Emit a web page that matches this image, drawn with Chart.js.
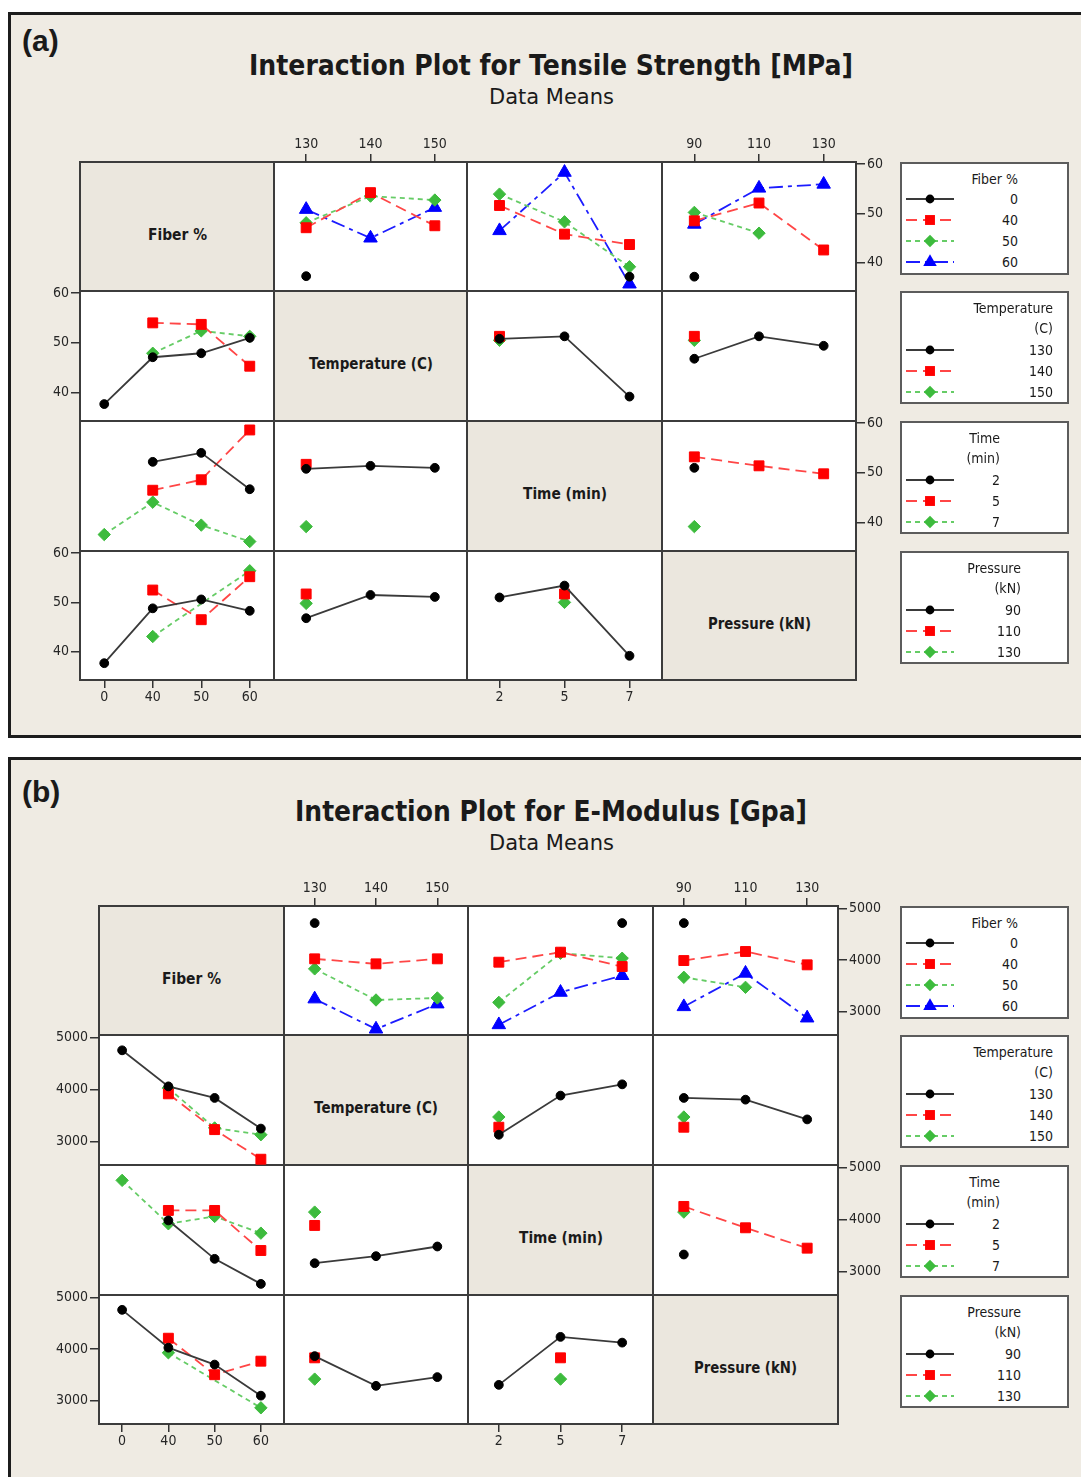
<!DOCTYPE html>
<html>
<head>
<meta charset="utf-8">
<title>Interaction Plots</title>
<script src="https://cdn.jsdelivr.net/npm/chart.js@4.4.1/dist/chart.umd.min.js"></script>
<style>
  html, body { margin: 0; padding: 0; }
  body { width: 1081px; height: 1477px; position: relative; overflow: hidden; background: #fff; }
  .frame { position: absolute; left: 8px; width: 1100px; box-sizing: border-box; border: 3px solid #1c1c1c; border-right: none; background: #efebe3; }
  .cell { position: absolute; box-sizing: border-box; border: 2px solid #3c3c3c; background: #fff; }
  .cell.diag { background: #ebe7de; }
  .legend { position: absolute; box-sizing: border-box; border: 2px solid #5c5c5c; background: #fff; }
  .txt { position: absolute; line-height: 1; white-space: nowrap; color: #1a1a1a; transform-origin: 0 50%; }
  canvas, svg { position: absolute; }
</style>
</head>
<body>
<script>
// factor levels
const fiberLevels = ['0', '40', '50', '60'];
const tempLevels = ['130', '140', '150'];
const timeLevels = ['2', '5', '7'];
const pressureLevels = ['90', '110', '130'];

// Tensile strength means [MPa]
// one row per level of the line factor, one value per level of the x factor (null = not run)
const tsFiberTemp = [[37.3, null, null], [47.1, 54.2, 47.5], [48.1, 53.5, 52.7], [50.8, 45.0, 51.2]];
const tsFiberTime = [[null, null, 37.2], [51.6, 45.8, 43.7], [53.9, 48.3, 39.2], [46.5, 58.3, 35.7]];
const tsFiberPressure = [[37.2, null, null], [48.5, 52.1, 42.6], [50.2, 46.0, null], [47.8, 55.1, 55.9]];
const tsTempFiber = [[37.7, 47.1, 47.9, 51.0], [null, 54.0, 53.7, 45.3], [null, 47.9, 52.4, 51.3]];
const tsTempTime = [[50.8, 51.3, 39.2], [51.3, null, null], [50.5, null, null]];
const tsTempPressure = [[46.8, 51.3, 49.4], [51.3, null, null], [50.5, null, null]];
const tsTimeFiber = [[null, 52.2, 54.0, 46.7], [null, 46.5, 48.6, 58.6], [37.6, 44.1, 39.5, 36.2]];
const tsTimeTemp = [[50.8, 51.4, 51.0], [51.7, null, null], [39.2, null, null]];
const tsTimePressure = [[51.0, null, null], [53.2, 51.4, 49.8], [39.2, null, null]];
const tsPressureFiber = [[37.7, 48.8, 50.6, 48.3], [null, 52.5, 46.5, 55.2], [null, 43.1, null, 56.4]];
const tsPressureTemp = [[46.8, 51.5, 51.1], [51.7, null, null], [49.8, null, null]];
const tsPressureTime = [[51.0, 53.4, 39.2], [null, 51.7, null], [null, 50.0, null]];
const tsTicks = [40, 50, 60];

// E-modulus means, as plotted
const emFiberTemp = [[4715, null, null], [4023, 3926, 4023], [3829, 3227, 3266], [3247, 2664, 3150]];
const emFiberTime = [[null, null, 4715], [3958, 4152, 3874], [3181, 4132, 4035], [2748, 3375, 3699]];
const emFiberPressure = [[4715, null, null], [3990, 4165, 3907], [3666, 3472, null], [3097, 3744, 2878]];
const emTempFiber = [[4751, 4059, 3837, 3249], [null, 3916, 3229, 2661], [null, 4026, 3261, 3131]];
const emTempTime = [[3131, 3882, 4098], [3275, null, null], [3471, null, null]];
const emTempPressure = [[3837, 3804, 3425], [3275, null, null], [3471, null, null]];
const emTimeFiber = [[null, 3981, 3244, 2763], [null, 4173, 4173, 3404], [4750, 3917, 4058, 3737]];
const emTimeTemp = [[3160, 3295, 3481], [3885, null, null], [4141, null, null]];
const emTimePressure = [[3327, null, null], [4250, 3840, 3449], [4141, null, null]];
const emPressureFiber = [[4758, 4026, 3699, 3098], [null, 4209, 3503, 3765], [null, 3928, null, 2863]];
const emPressureTemp = [[3863, 3288, 3457], [3830, null, null], [3418, null, null]];
const emPressureTime = [[3307, 4235, 4124], [null, 3830, null], [null, 3418, null]];
const emTicks = [3000, 4000, 5000];

const factorNames = ['Fiber %', 'Temperature (C)', 'Time (min)', 'Pressure (kN)'];
const factorLevels = [fiberLevels, tempLevels, timeLevels, pressureLevels];
const legendTitles = [['Fiber %'], ['Temperature', '(C)'], ['Time', '(min)'], ['Pressure', '(kN)']];

const figures = [
  {
    tag: '(a)', title: 'Interaction Plot for Tensile Strength [MPa]',
    frameTop: 12, frameHeight: 726, tagY: 41, titleY: 65, titleW: 604, subY: 97,
    cols: [80, 274, 467, 662, 856], rows: [162, 291, 421, 551, 680],
    yMin: 34.3, yMax: 60.4, yTicks: tsTicks,
    panels: {
      '01': tsFiberTemp, '02': tsFiberTime, '03': tsFiberPressure,
      '10': tsTempFiber, '12': tsTempTime, '13': tsTempPressure,
      '20': tsTimeFiber, '21': tsTimeTemp, '23': tsTimePressure,
      '30': tsPressureFiber, '31': tsPressureTemp, '32': tsPressureTime
    }
  },
  {
    tag: '(b)', title: 'Interaction Plot for E-Modulus [Gpa]',
    frameTop: 757, frameHeight: 740, tagY: 792, titleY: 811, titleW: 512, subY: 843,
    cols: [99, 284, 468, 653, 838], rows: [906, 1035, 1165, 1295, 1424],
    yMin: 2550, yMax: 5045, yTicks: emTicks,
    panels: {
      '01': emFiberTemp, '02': emFiberTime, '03': emFiberPressure,
      '10': emTempFiber, '12': emTempTime, '13': emTempPressure,
      '20': emTimeFiber, '21': emTimeTemp, '23': emTimePressure,
      '30': emPressureFiber, '31': emPressureTemp, '32': emPressureTime
    }
  }
];

// one style per level: black solid / red dashed / green short dash / blue dash-dot
const seriesStyle = [
  { color: '#000000', line: '#3a3a3a', dash: [], point: 'circle', r: 4.4 },
  { color: '#ff0000', line: '#ff4646', dash: [11, 6], point: 'rect', r: 7 },
  { color: '#3dbb3d', line: '#66cc66', dash: [5, 4], point: 'rectRot', r: 6.2 },
  { color: '#0000ff', line: '#1c1cff', dash: [14, 5, 4, 5], point: 'triangle', r: 7.8 }
];

const TICK_FONT = "'Liberation Sans Narrow', 'DejaVu Sans Condensed', 'Liberation Sans', sans-serif";
const M = 46; // room around each panel for its axis

const measureCtx = document.createElement('canvas').getContext('2d');

function addText(txt, x, y, font, align, fitWidth) {
  const el = document.createElement('div');
  el.className = 'txt';
  el.textContent = txt;
  el.style.font = font;
  measureCtx.font = font;
  const natural = measureCtx.measureText(txt).width;
  const w = fitWidth || natural;
  const scale = w / natural;
  let left = x - w / 2;
  if (align === 'right') left = x - w;
  if (align === 'left') left = x;
  el.style.left = left + 'px';
  el.style.top = y + 'px';
  el.style.transform = `translateY(-50%) scaleX(${scale})`;
  document.body.appendChild(el);
  return el;
}

function addBox(cls, left, top, width, height) {
  const el = document.createElement('div');
  el.className = cls;
  Object.assign(el.style, { left: left + 'px', top: top + 'px', width: width + 'px', height: height + 'px' });
  document.body.appendChild(el);
  return el;
}

function makeDataset(vals, st) {
  return {
    data: vals.map((v, k) => ({ x: k, y: v })),
    borderColor: st.line,
    borderWidth: 1.8,
    borderDash: st.dash,
    pointStyle: st.point,
    pointRadius: st.r,
    pointBackgroundColor: st.color,
    pointBorderColor: st.color,
    pointBorderWidth: 1,
    spanGaps: true,
    tension: 0,
    fill: false,
    clip: false
  };
}

function drawPanel(fig, r, c) {
  const x0 = fig.cols[c], x1 = fig.cols[c + 1];
  const y0 = fig.rows[r], y1 = fig.rows[r + 1];
  const levels = factorLevels[c];
  const series = fig.panels[`${r}${c}`];
  const show = {
    top: r === 0 && c % 2 === 1,
    bottom: r === 3 && c % 2 === 0,
    left: c === 0 && r % 2 === 1,
    right: c === 3 && r % 2 === 0
  };
  const showX = show.top || show.bottom;
  const showY = show.left || show.right;

  const canvas = document.createElement('canvas');
  canvas.width = x1 - x0 + 2 * M;
  canvas.height = y1 - y0 + 2 * M;
  canvas.style.left = (x0 - M) + 'px';
  canvas.style.top = (y0 - M) + 'px';
  document.body.appendChild(canvas);

  const tickFont = { family: TICK_FONT, size: 14 };
  new Chart(canvas, {
    type: 'line',
    data: { datasets: series.map((vals, s) => makeDataset(vals, seriesStyle[s])) },
    options: {
      responsive: false,
      animation: false,
      events: [],
      layout: {
        padding: {
          top: show.top ? 0 : M, bottom: show.bottom ? 0 : M,
          left: show.left ? 0 : M, right: show.right ? 0 : M
        }
      },
      plugins: { legend: { display: false }, tooltip: { enabled: false } },
      scales: {
        x: {
          type: 'linear',
          position: show.top ? 'top' : 'bottom',
          display: showX,
          min: -0.5,
          max: levels.length - 0.5,
          afterBuildTicks: s => { s.ticks = levels.map((_, k) => ({ value: k })); },
          afterFit: s => { s.height = showX ? M : 0; },
          ticks: { callback: v => levels[v], autoSkip: false, maxRotation: 0, padding: 1, color: '#262626', font: tickFont },
          grid: { drawOnChartArea: false, tickLength: 8, color: '#333', lineWidth: 1.5 },
          border: { display: false }
        },
        y: {
          type: 'linear',
          position: show.left ? 'left' : 'right',
          display: showY,
          min: fig.yMin,
          max: fig.yMax,
          afterBuildTicks: s => { s.ticks = fig.yTicks.map(v => ({ value: v })); },
          afterFit: s => { s.width = showY ? M : 0; },
          ticks: { callback: v => String(v), padding: 2, color: '#262626', font: tickFont },
          grid: { drawOnChartArea: false, tickLength: 9, color: '#333', lineWidth: 1.5 },
          border: { display: false }
        }
      }
    }
  });
}

function sampleSvg(st, left, cy) {
  const ns = 'http://www.w3.org/2000/svg';
  const svg = document.createElementNS(ns, 'svg');
  svg.setAttribute('width', 54);
  svg.setAttribute('height', 18);
  svg.style.left = left + 'px';
  svg.style.top = (cy - 9) + 'px';
  const line = document.createElementNS(ns, 'line');
  Object.entries({ x1: 2, y1: 9, x2: 50, y2: 9, stroke: st.line, 'stroke-width': 1.8, 'stroke-dasharray': st.dash.join(' ') })
    .forEach(([k, v]) => line.setAttribute(k, v));
  svg.appendChild(line);
  const cx = 26, y = 9, rr = st.r;
  let mark;
  if (st.point === 'circle') {
    mark = document.createElementNS(ns, 'circle');
    mark.setAttribute('cx', cx); mark.setAttribute('cy', y); mark.setAttribute('r', rr);
  } else {
    let pts;
    if (st.point === 'rect') {
      const h = rr * Math.SQRT1_2;
      pts = [[cx - h, y - h], [cx + h, y - h], [cx + h, y + h], [cx - h, y + h]];
    } else if (st.point === 'rectRot') {
      pts = [[cx, y - rr], [cx + rr, y], [cx, y + rr], [cx - rr, y]];
    } else {
      pts = [[cx, y - rr], [cx + rr * 0.866, y + rr * 0.5], [cx - rr * 0.866, y + rr * 0.5]];
    }
    mark = document.createElementNS(ns, 'polygon');
    mark.setAttribute('points', pts.map(p => p.join(',')).join(' '));
  }
  mark.setAttribute('fill', st.color);
  svg.appendChild(mark);
  document.body.appendChild(svg);
}

// right edge of the legend text column, per factor
const legendTextRight = [118, 153, 100, 121];

function drawLegend(fig, f) {
  const top = fig.rows[f], left = 900;
  addBox('legend', left, top, 169, 113);
  const titles = legendTitles[f];
  const textFont = `14px ${TICK_FONT}`;
  titles.forEach((t, k) => addText(t, left + legendTextRight[f], top + 16.5 + k * 20.5, textFont, 'right'));
  const rowStart = titles.length === 1 ? 37 : 59;
  factorLevels[f].forEach((lv, s) => {
    const cy = top + rowStart + s * 21;
    sampleSvg(seriesStyle[s], left + 4, cy);
    addText(lv, left + legendTextRight[f], cy, textFont, 'right');
  });
}

function drawFigure(fig) {
  addBox('frame', 8, fig.frameTop, 1100, fig.frameHeight);
  addText(fig.tag, 22, fig.tagY, "bold 30px 'Liberation Sans', sans-serif", 'left');
  addText(fig.title, 551, fig.titleY, "bold 29px 'DejaVu Sans', sans-serif", 'center', fig.titleW);
  addText('Data Means', 551, fig.subY, "21px 'DejaVu Sans', sans-serif", 'center', 125);

  for (let r = 0; r < 4; r++) {
    for (let c = 0; c < 4; c++) {
      const x0 = fig.cols[c], y0 = fig.rows[r];
      const w = fig.cols[c + 1] - x0, h = fig.rows[r + 1] - y0;
      addBox(r === c ? 'cell diag' : 'cell', x0 - 1, y0 - 1, w + 2, h + 2);
    }
  }
  const diagWidths = [59, 124, 84, 103];
  for (let d = 0; d < 4; d++) {
    const cx = (fig.cols[d] + fig.cols[d + 1]) / 2;
    const cy = (fig.rows[d] + fig.rows[d + 1]) / 2 + 8;
    addText(factorNames[d], cx, cy, "bold 15px 'DejaVu Sans', sans-serif", 'center', diagWidths[d]);
  }
  for (let r = 0; r < 4; r++) {
    for (let c = 0; c < 4; c++) {
      if (r !== c) drawPanel(fig, r, c);
    }
  }
  for (let f = 0; f < 4; f++) drawLegend(fig, f);
}

figures.forEach(drawFigure);
</script>
</body>
</html>
